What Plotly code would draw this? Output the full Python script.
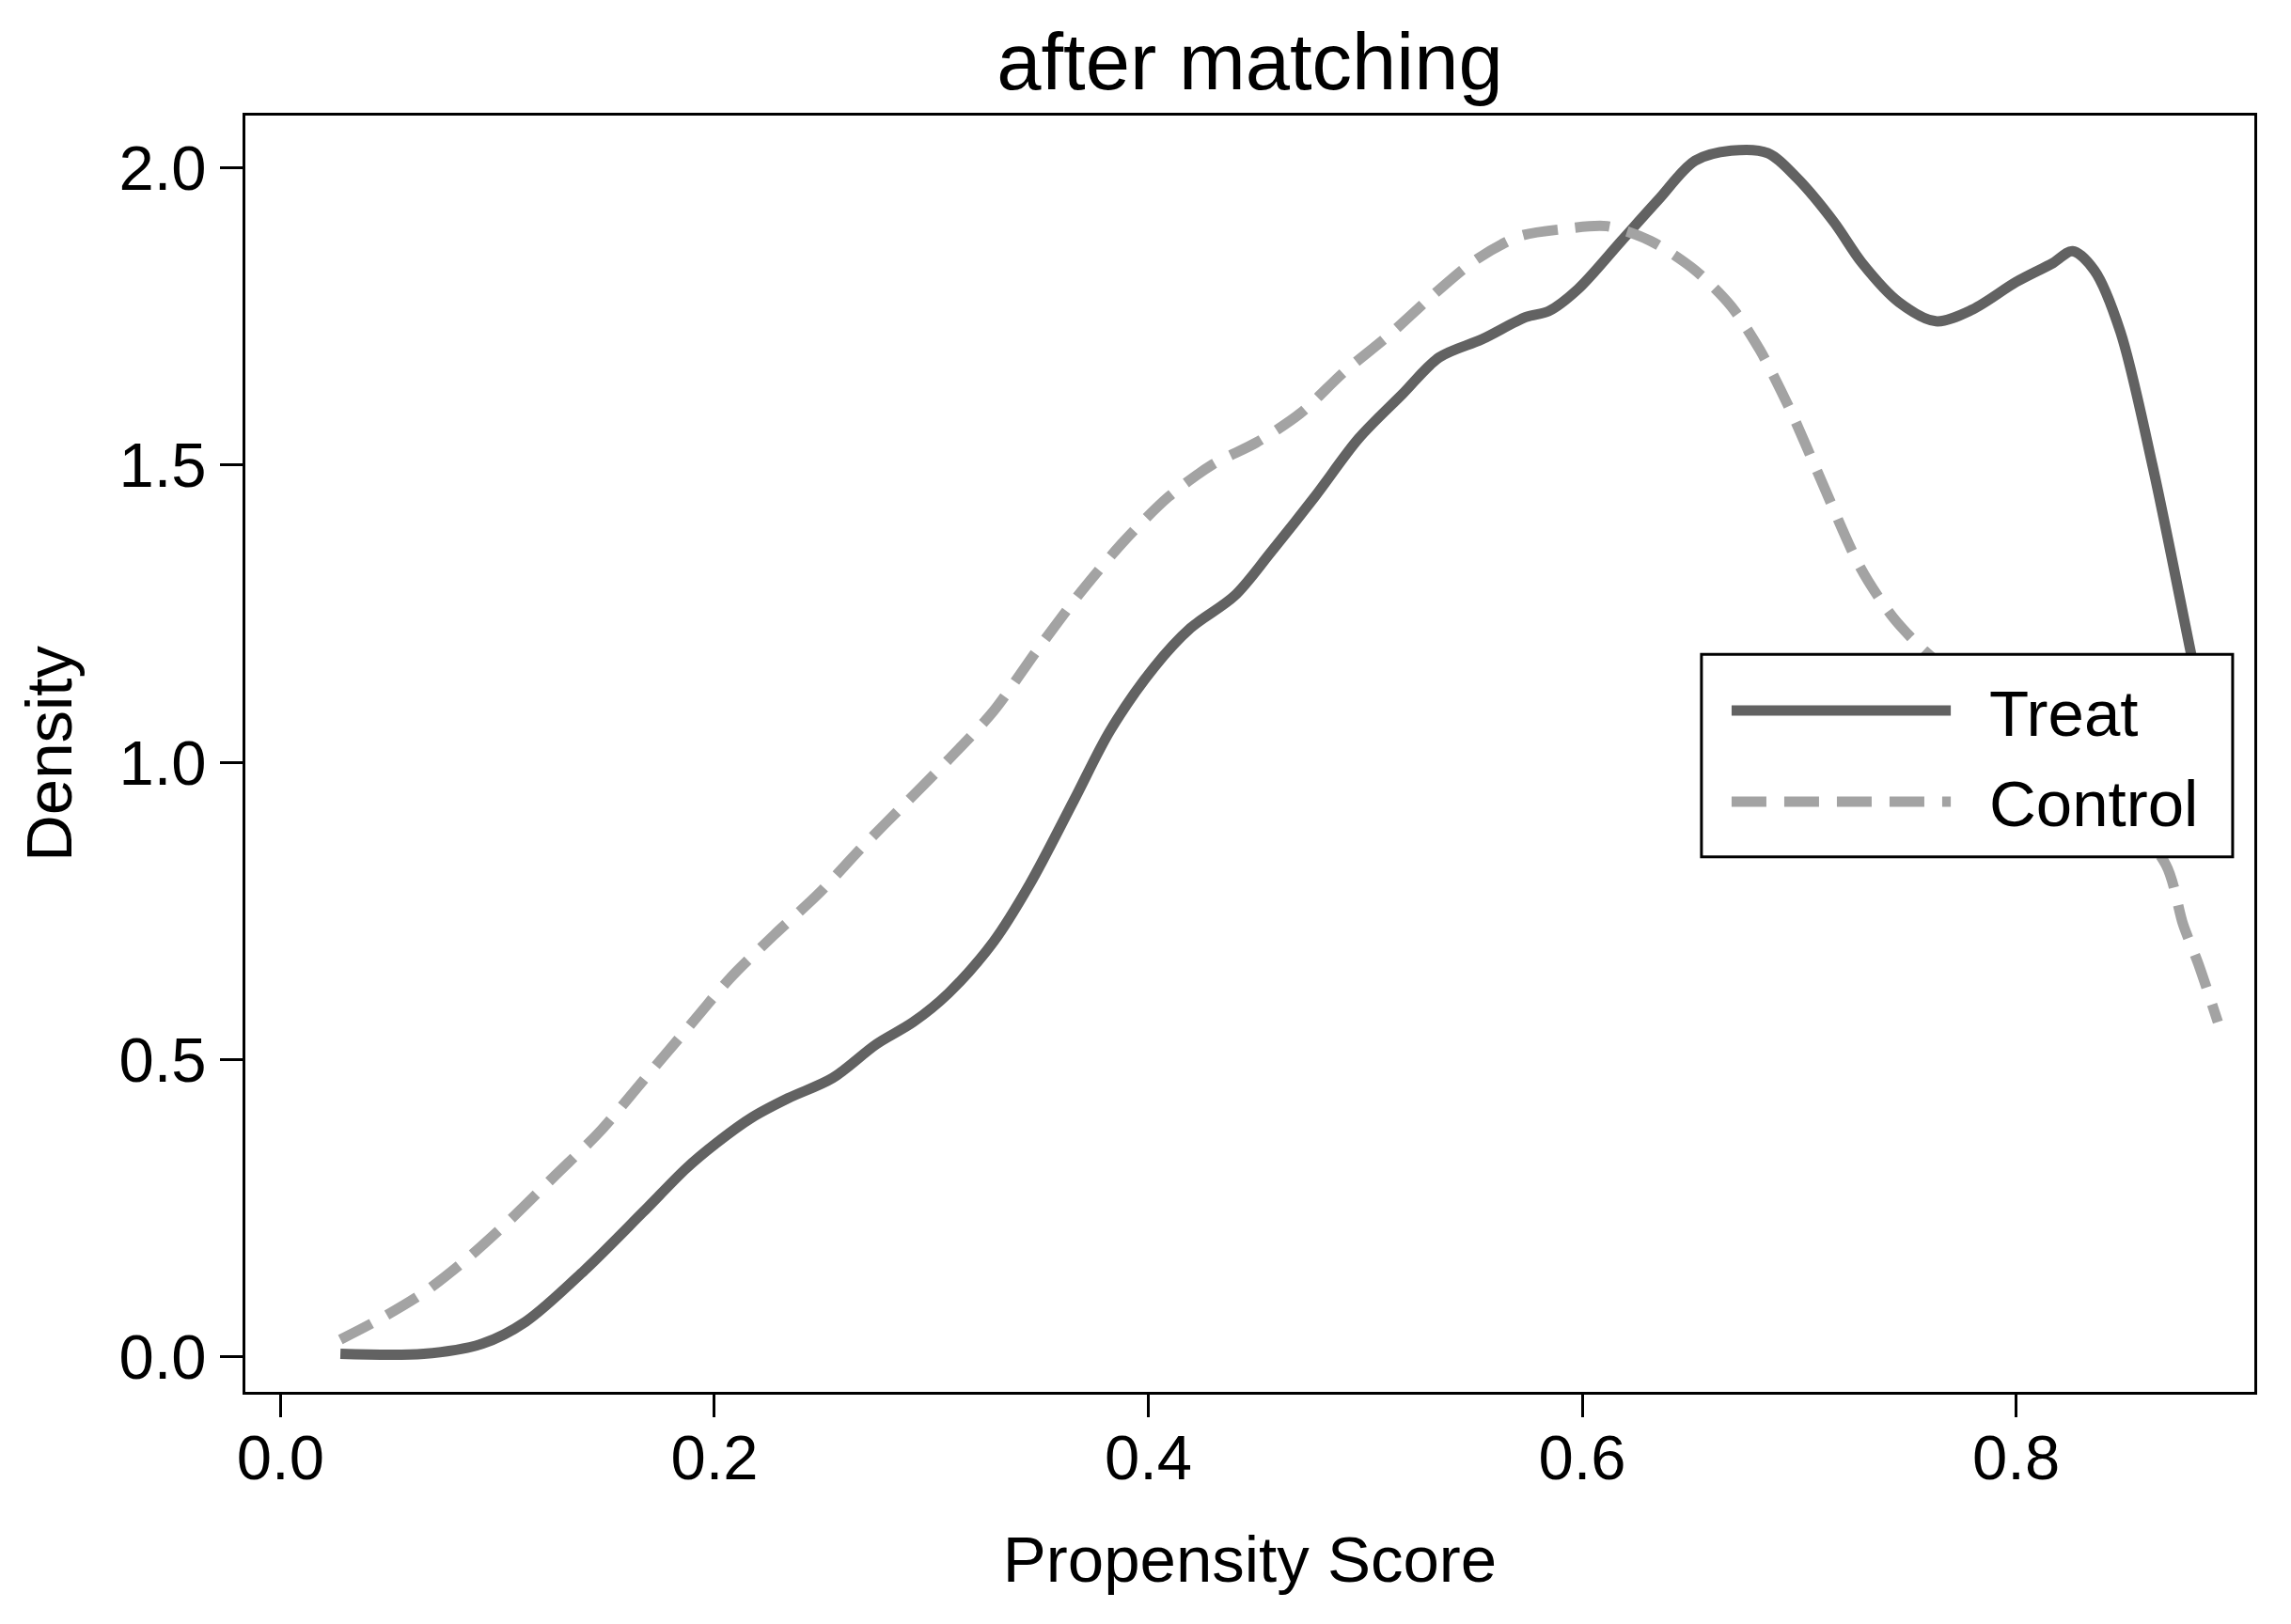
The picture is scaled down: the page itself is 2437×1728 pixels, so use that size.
import plotly.graph_objects as go

# ---- data ----
treat_x = [0.0276, 0.066, 0.093, 0.113, 0.140, 0.167, 0.187, 0.2007, 0.2175, 0.234,
           0.2545, 0.2747, 0.2916, 0.308, 0.3286, 0.3455, 0.3657, 0.3825, 0.4027, 0.4195,
           0.4397, 0.4566, 0.4768, 0.497, 0.517, 0.534, 0.554, 0.574, 0.5845, 0.598,
           0.618, 0.635, 0.652, 0.6687, 0.6855, 0.699, 0.716, 0.729, 0.746, 0.763,
           0.780, 0.800, 0.817, 0.826, 0.836, 0.848, 0.863, 0.8804, 0.892]
treat_y = [0.005, 0.005, 0.022, 0.059, 0.145, 0.243, 0.317, 0.359, 0.403, 0.435,
           0.469, 0.526, 0.563, 0.612, 0.698, 0.796, 0.936, 1.054, 1.160, 1.226,
           1.280, 1.354, 1.447, 1.545, 1.619, 1.681, 1.712, 1.749, 1.759, 1.796,
           1.877, 1.946, 2.012, 2.029, 2.025, 1.983, 1.909, 1.840, 1.774, 1.742,
           1.762, 1.808, 1.840, 1.860, 1.828, 1.725, 1.497, 1.187, 0.980]

control_x = [0.0276, 0.046, 0.066, 0.086, 0.106, 0.1266, 0.147, 0.167, 0.187, 0.207,
             0.2276, 0.248, 0.268, 0.288, 0.308, 0.3286, 0.3488, 0.369, 0.389, 0.4094,
             0.4296, 0.4498, 0.470, 0.490, 0.5104, 0.5306, 0.5508, 0.571, 0.591, 0.6114,
             0.6316, 0.652, 0.6687, 0.682, 0.6956, 0.709, 0.728, 0.743, 0.758, 0.7865,
             0.8135, 0.840, 0.869, 0.877, 0.884, 0.893]
control_y = [0.029, 0.064, 0.108, 0.165, 0.231, 0.305, 0.378, 0.464, 0.550, 0.636,
             0.710, 0.779, 0.857, 0.931, 1.005, 1.086, 1.189, 1.287, 1.373, 1.447,
             1.501, 1.538, 1.587, 1.656, 1.717, 1.784, 1.845, 1.885, 1.897, 1.902,
             1.877, 1.828, 1.767, 1.693, 1.595, 1.484, 1.329, 1.245, 1.187, 1.103,
             1.042, 0.956, 0.828, 0.727, 0.661, 0.563]

x_ticks = [0.0, 0.2, 0.4, 0.6, 0.8]
y_ticks = [0.0, 0.5, 1.0, 1.5, 2.0]
series_names = ["Treat", "Control"]
title_text = "after matching"
x_title = "Propensity Score"
y_title = "Density"

# ---- style ----
FONT = "Liberation Sans, Arial, Helvetica, sans-serif"
TREAT_COLOR = "#626262"
CONTROL_COLOR = "#a3a3a3"
LW = 11
DASH = "37px,19px"
W, H = 2429, 1720   # page body has an 8px margin

fig = go.Figure()
fig.add_trace(go.Scatter(x=treat_x, y=treat_y, mode="lines", name=series_names[0],
                         line=dict(color=TREAT_COLOR, width=LW, shape="spline", smoothing=0.9),
                         showlegend=False))
fig.add_trace(go.Scatter(x=control_x, y=control_y, mode="lines", name=series_names[1],
                         line=dict(color=CONTROL_COLOR, width=LW, dash=DASH, shape="spline", smoothing=0.8),
                         showlegend=False))

axis_common = dict(
    showgrid=False, zeroline=False, showline=True, linecolor="black", linewidth=3,
    mirror=True, ticks="outside", ticklen=24, tickwidth=2.5, tickcolor="black",
    tickfont=dict(family=FONT, size=67, color="black"), tickformat=".1f",
)

fig.update_layout(
    width=W, height=H,
    margin=dict(l=253, r=39, t=115, b=247),
    paper_bgcolor="white", plot_bgcolor="white",
    title=dict(text=title_text, x=0.5, xref="paper", y=1 - 57 / H, yref="container",
               xanchor="center", yanchor="middle",
               font=dict(family=FONT, size=85, color="black")),
    xaxis=dict(range=[-0.0162, 0.9098], tickvals=x_ticks, ticklabelstandoff=-14,
               title=dict(text=x_title, font=dict(family=FONT, size=69, color="black"), standoff=48),
               **axis_common),
    yaxis=dict(range=[-0.059, 2.088], tickvals=y_ticks, ticklabelstandoff=1,
               title=dict(text=y_title, font=dict(family=FONT, size=69, color="black"), standoff=28),
               **axis_common),
    showlegend=False,
)

# ---- legend drawn as a boxed key (paper coordinates) ----
fig.add_shape(type="rect", xref="paper", yref="paper", x0=0.7248, x1=0.9892, y0=0.4191, y1=0.5779,
              line=dict(color="black", width=3), fillcolor="white", layer="above")
fig.add_shape(type="line", xref="paper", yref="paper", x0=0.7398, x1=0.8489, y0=0.5338, y1=0.5338,
              line=dict(color=TREAT_COLOR, width=LW), layer="above")
fig.add_shape(type="line", xref="paper", yref="paper", x0=0.7398, x1=0.8489, y0=0.4625, y1=0.4625,
              line=dict(color=CONTROL_COLOR, width=LW, dash=DASH), layer="above")
for name, yy in zip(series_names, [0.5316, 0.4603]):
    fig.add_annotation(xref="paper", yref="paper", x=0.8671, y=yy, text=name, showarrow=False,
                       xanchor="left", yanchor="middle",
                       font=dict(family=FONT, size=69, color="black"))

fig.write_html("out.html")
